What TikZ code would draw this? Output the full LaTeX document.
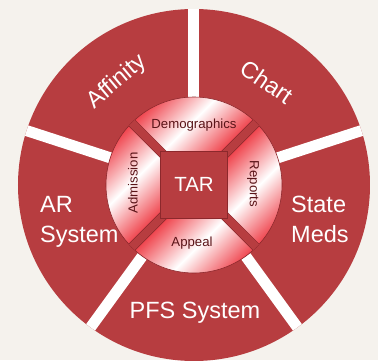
\documentclass[tikz,border=0pt]{standalone}
\usepackage{fontspec}
\setmainfont{Liberation Sans}
\definecolor{bg}{RGB}{245,242,237}
\definecolor{outred}{RGB}{183,61,64}
\definecolor{ringred}{RGB}{238,48,58}
\definecolor{edgered}{RGB}{140,40,44}
\definecolor{txtred}{RGB}{90,20,24}
\begin{document}
\begin{tikzpicture}[x=1pt,y=1pt,
  outtxt/.style={text=white,font=\fontsize{23.5}{28}\selectfont,inner sep=0pt},
  intxt/.style={text=txtred,font=\fontsize{13.2}{15}\selectfont,inner sep=0pt},
  seg/.style={draw=edgered,line width=0.6pt,left color=ringred,right color=ringred,middle color=white,shading angle=45},
  sep/.style={draw=edgered,line width=0.6pt,double=outred,double distance=8pt},
  gap/.style={white,line width=11pt}]
\fill[bg] (-194,-175) rectangle (184,185);
\useasboundingbox (-194,-175) rectangle (184,185);
\clip (-194,-175) rectangle (184,185);
\fill[outred] (0,0) circle (176);
\begin{scope}
  \clip (0,0) circle (176);
  \foreach \a in {18,90,162,234,306} \draw[gap] (\a:88) -- (\a:180);
\end{scope}
% inner ring segments
\shadedraw[seg] (-33.5,33.5) -- (135:88) arc[start angle=135,end angle=45,radius=88] -- (33.5,33.5) -- cycle;
\shadedraw[seg] (33.5,33.5) -- (45:88) arc[start angle=45,end angle=-45,radius=88] -- (33.5,-33.5) -- cycle;
\shadedraw[seg] (33.5,-33.5) -- (-45:88) arc[start angle=-45,end angle=-135,radius=88] -- (-33.5,-33.5) -- cycle;
\shadedraw[seg] (-33.5,-33.5) -- (-135:88) arc[start angle=-135,end angle=-225,radius=88] -- (-33.5,33.5) -- cycle;
\foreach \a in {45,135,225,315} \draw[sep] (\a:40) -- (\a:88);
\node[draw=edgered,fill=outred,line width=0.6pt,minimum size=67pt,inner sep=0pt,text=white,font=\fontsize{20.5}{24}\selectfont] (tar) at (0,0.5) {TAR};
% inner labels
\node[intxt,anchor=base] (demo) at (0,57) {Demographics};
\node[intxt,rotate=-90] (rep) at (59,1) {Reports};
\node[intxt,rotate=90] (adm) at (-61,2) {Admission};
\node[intxt,anchor=base] (app) at (-2,-61) {Appeal};
% outer labels
\node[outtxt,rotate=40] (aff) at (-77,103) {Affinity};
\node[outtxt,rotate=-34] (chart) at (73,103) {Chart};
\node[outtxt,anchor=base west] (state) at (97,-27) {State};
\node[outtxt,anchor=base west] (meds) at (97,-57) {Meds};
\node[outtxt,anchor=base west] (ar) at (-154,-27) {AR};
\node[outtxt,anchor=base west] (sys) at (-154,-57) {System};
\node[outtxt,anchor=base] (pfs) at (1,-133) {PFS System};
\end{tikzpicture}
\end{document}
